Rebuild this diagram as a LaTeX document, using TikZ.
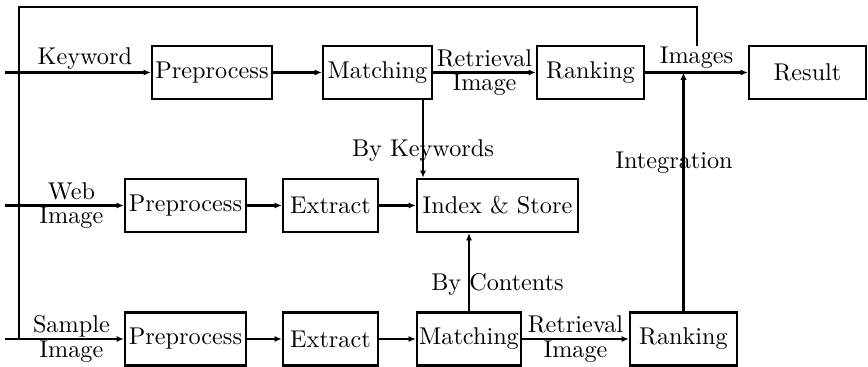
\documentclass[tikz,border=0pt]{standalone}
\usetikzlibrary{arrows.meta}
\begin{document}
\begin{tikzpicture}[x=0.4125pt,y=-0.4125pt,
  bx/.style={draw, line width=1pt, inner sep=0pt, minimum height=53*0.4125pt, font=\normalsize},
  ln/.style={line width=0.9pt},
  arr/.style={line width=0.9pt, -{Latex[length=3pt,width=2.6pt]}},
  lbl/.style={inner sep=1pt, align=center, font=\normalsize}]
\useasboundingbox (0,0) rectangle (868,367);
% boxes
\node[bx, minimum width=120*0.4125pt] (kpre) at (212,72.5) {Preprocess};
\node[bx, minimum width=109*0.4125pt] (kmatch) at (377.5,72.5) {Matching};
\node[bx, minimum width=107*0.4125pt] (krank) at (590.5,72.5) {Ranking};
\node[bx, minimum width=117*0.4125pt] (result) at (807.5,72.5) {Result};
\node[bx, minimum width=121*0.4125pt] (wpre) at (185.5,205.5) {Preprocess};
\node[bx, minimum width=95*0.4125pt] (wext) at (330.5,205.5) {Extract};
\node[bx, minimum width=161*0.4125pt] (index) at (497.5,205.5) {Index \& Store};
\node[bx, minimum width=121*0.4125pt] (spre) at (185.5,339) {Preprocess};
\node[bx, minimum width=95*0.4125pt] (sext) at (330.5,339) {Extract};
\node[bx, minimum width=104*0.4125pt] (smatch) at (469,339) {Matching};
\node[bx, minimum width=107*0.4125pt] (srank) at (683.5,339) {Ranking};
% coordinates
\coordinate (tl) at (19,7);
\coordinate (tr) at (697,7);
\coordinate (te) at (697,46);
\coordinate (in1) at (5,72.5);
\coordinate (j1) at (19,72.5);
\coordinate (in2) at (5,205.5);
\coordinate (j2) at (19,205.5);
\coordinate (in3) at (5,339);
\coordinate (j3) at (19,339);
\coordinate (kw) at (423,0);
% frame lines
\draw[ln] (j3) -- (tl) -- (tr) -- (te);
% row 1
\draw[ln] (in1) -- (j1);
\draw[arr] (j1) -- node[lbl, above] (lkey) {Keyword} (kpre);
\draw[arr] (kpre) -- (kmatch);
\draw[arr] (kmatch) -- node[lbl] (lret1) {Retrieval\\[-2pt]Image} (krank);
\draw[arr] (krank) -- node[lbl, above] (limg) {Images} (result);
% row 2
\draw[ln] (in2) -- (j2);
\draw[arr] (j2) -- node[lbl] (lweb) {Web\\[-2pt]Image} (wpre);
\draw[arr] (wpre) -- (wext);
\draw[arr] (wext) -- (index);
% row 3
\draw[ln] (in3) -- (j3);
\draw[arr] (j3) -- node[lbl] (lsam) {Sample\\[-2pt]Image} (spre);
\draw[arr] (spre) -- (sext);
\draw[arr] (sext) -- (smatch);
\draw[arr] (smatch) -- node[lbl] (lret2) {Retrieval\\[-2pt]Image} (srank);
% verticals
\draw[arr] (kmatch.south -| kw) -- (index.north -| kw);
\draw[arr] (smatch.north) -- (index.south -| smatch.north);
\draw[arr] (srank.north) -- (srank.north |- krank.east);
% vertical labels
\node[lbl] (lbk) at (423,151) {By Keywords};
\node[lbl] (lbc) at (497.5,284) {By Contents};
\node[lbl] (lint) at (674,163) {Integration};
\end{tikzpicture}
\end{document}
